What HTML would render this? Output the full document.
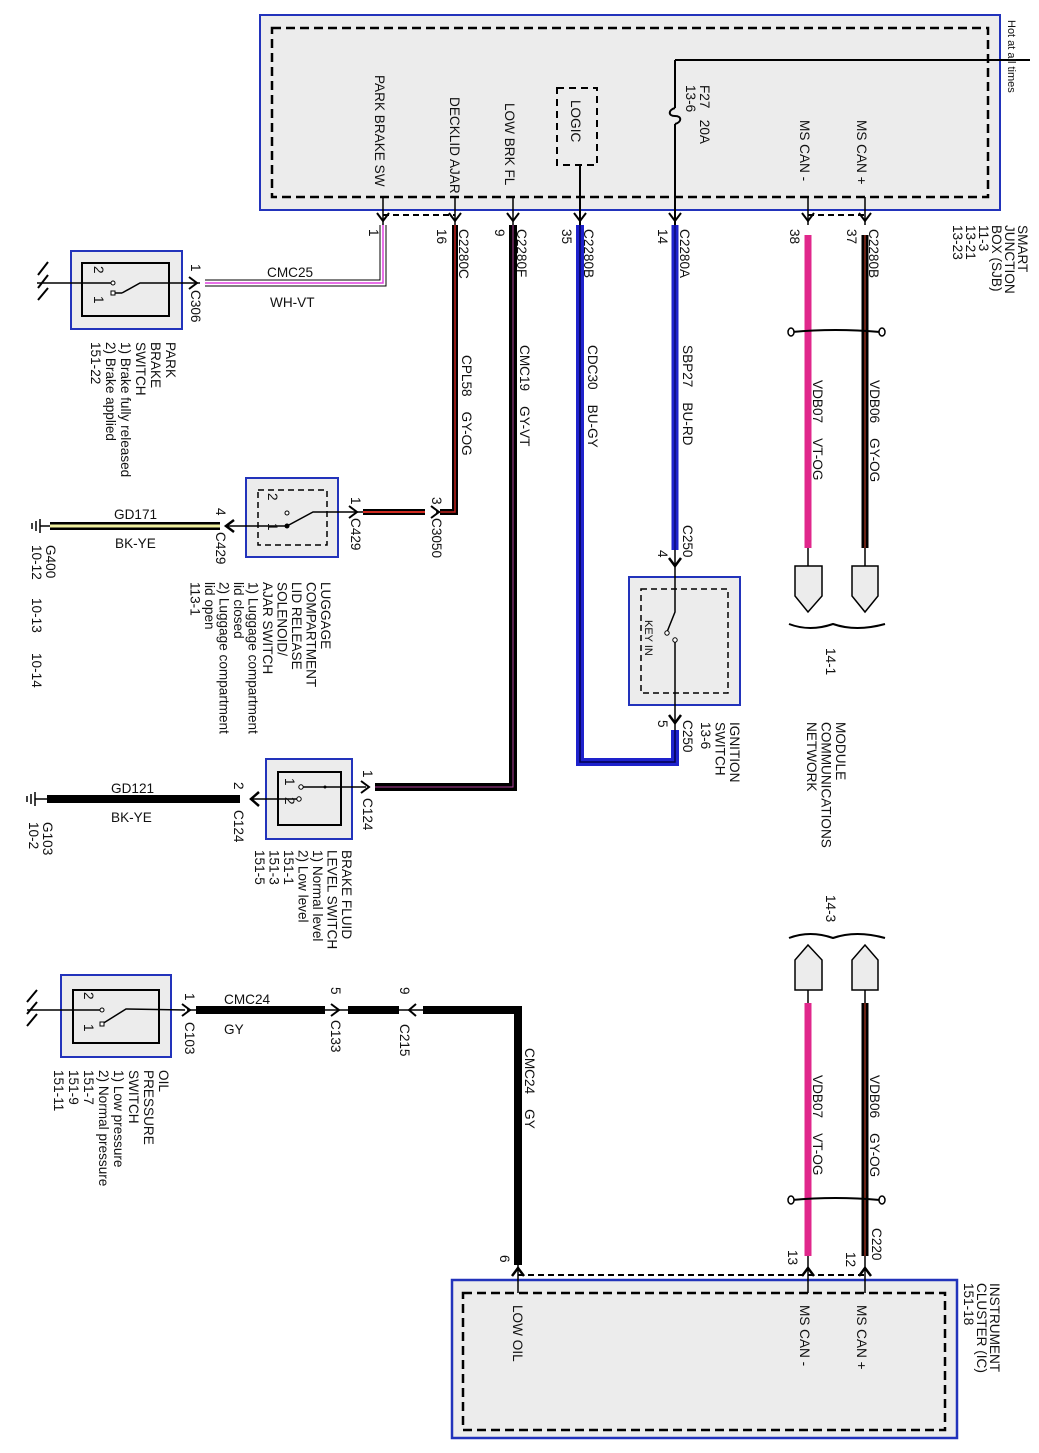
<!DOCTYPE html>
<html><head><meta charset="utf-8"><style>
body{margin:0;background:#fff}
svg{display:block}
text{font-family:"Liberation Sans",sans-serif;font-size:13.6px;fill:#111;white-space:pre}
</style></head><body>
<svg width="1039" height="1453" viewBox="0 0 1039 1453" xmlns="http://www.w3.org/2000/svg">
<defs>
<g id="chD"><path d="M-6,-5 L0,3 L6,-5" fill="none" stroke="#000" stroke-width="2"/></g>
</defs>

<!-- SJB -->
<rect x="260" y="15" width="740" height="195" fill="#ececec" stroke="#2233bb" stroke-width="2"/>
<rect x="272" y="28" width="716" height="169" fill="none" stroke="#000" stroke-width="2.5" stroke-dasharray="9,5"/>
<path d="M675,60 L1030,60" stroke="#000" stroke-width="2"/>
<path d="M675,60 L675,108 M675,124 L675,225" stroke="#000" stroke-width="2"/>
<path d="M675,108 C668,110 668,116 675,116 C682,116 682,122 675,124" fill="none" stroke="#000" stroke-width="2"/>
<rect x="557" y="88" width="40" height="77" fill="none" stroke="#000" stroke-width="2" stroke-dasharray="7,5"/>
<path d="M580,165 L580,225" stroke="#000" stroke-width="2"/>
<path d="M383,197 L383,225 M455,197 L455,225 M513,197 L513,225 M808,197 L808,225 M865,197 L865,225" stroke="#000" stroke-width="1.5"/>
<path d="M383,215 L455,215 M808,215 L865,215" stroke="#000" stroke-width="2" stroke-dasharray="6,4"/>
<g transform="translate(383,218)"><use href="#chD"/></g>
<g transform="translate(455,218)"><use href="#chD"/></g>
<g transform="translate(513,218)"><use href="#chD"/></g>
<g transform="translate(580,218)"><use href="#chD"/></g>
<g transform="translate(675,218)"><use href="#chD"/></g>
<g transform="translate(808,218)"><use href="#chD"/></g>
<g transform="translate(865,218)"><use href="#chD"/></g>

<text transform="translate(375,75) rotate(90)">PARK BRAKE SW</text>
<text transform="translate(450,97) rotate(90)">DECKLID AJAR</text>
<text transform="translate(505,103) rotate(90)">LOW BRK FL</text>
<text transform="translate(571,100) rotate(90)">LOGIC</text>
<text transform="translate(686,85) rotate(90)">13-6</text>
<text transform="translate(700,85) rotate(90)">F27   20A</text>
<text transform="translate(800,120) rotate(90)">MS CAN -</text>
<text transform="translate(857,120) rotate(90)">MS CAN +</text>
<text transform="translate(1008,20) rotate(90)" style="font-size:11px">Hot at all times</text>

<text transform="translate(369,229) rotate(90)">1</text>
<text transform="translate(437,229) rotate(90)">16</text>
<text transform="translate(495,229) rotate(90)">9</text>
<text transform="translate(562,229) rotate(90)">35</text>
<text transform="translate(658,229) rotate(90)">14</text>
<text transform="translate(790,229) rotate(90)">38</text>
<text transform="translate(847,229) rotate(90)">37</text>
<text transform="translate(459,229) rotate(90)">C2280C</text>
<text transform="translate(517,229) rotate(90)">C2280F</text>
<text transform="translate(584,229) rotate(90)">C2280B</text>
<text transform="translate(680,229) rotate(90)">C2280A</text>
<text transform="translate(869,229) rotate(90)">C2280B</text>
<text transform="translate(1018,225) rotate(90)"><tspan x="0">SMART</tspan><tspan x="0" dy="13">JUNCTION</tspan><tspan x="0" dy="13">BOX (SJB)</tspan><tspan x="0" dy="13">11-3</tspan><tspan x="0" dy="13">13-21</tspan><tspan x="0" dy="13">13-23</tspan></text>

<!-- Park brake wire -->
<path d="M383,225 L383,283 L205,283" fill="none" stroke="#000" stroke-width="7"/>
<path d="M383,225 L383,283 L205,283" fill="none" stroke="#fff" stroke-width="5"/>
<path d="M383,225 L383,283 L205,283" fill="none" stroke="#e040e0" stroke-width="1.5"/>
<text x="267" y="277">CMC25</text>
<text x="270" y="307">WH-VT</text>
<rect x="71" y="251" width="111" height="78" fill="#ececec" stroke="#2233bb" stroke-width="2"/>
<rect x="82" y="263" width="87" height="53" fill="none" stroke="#000" stroke-width="2"/>
<path d="M37,283 L113,283 M122,293 L140,283 L200,283" stroke="#000" stroke-width="1.5" fill="none"/>
<path d="M113,293 L122,293" stroke="#000" stroke-width="1.5"/>
<circle cx="113" cy="283" r="2" fill="#fff" stroke="#000"/>
<rect x="111" y="291" width="4" height="4" fill="#fff" stroke="#000"/>
<path d="M48,262 L38,275 M48,275 L38,288 M48,288 L38,300" stroke="#000" stroke-width="2"/>
<g transform="translate(194,283) rotate(-90)"><use href="#chD"/></g>
<text transform="translate(191,264) rotate(90)">1</text>
<text transform="translate(191,290) rotate(90)">C306</text>
<text transform="translate(94,266) rotate(90)">2</text>
<text transform="translate(94,296) rotate(90)">1</text>
<text transform="translate(166,342) rotate(90)"><tspan x="0">PARK</tspan><tspan x="0" dy="15">BRAKE</tspan><tspan x="0" dy="15">SWITCH</tspan><tspan x="0" dy="15">1) Brake fully released</tspan><tspan x="0" dy="15">2) Brake applied</tspan><tspan x="0" dy="15">151-22</tspan></text>

<!-- Decklid wire -->
<path d="M455,225 L455,512 L440,512" fill="none" stroke="#000" stroke-width="6"/>
<path d="M455,225 L455,512 L440,512" fill="none" stroke="#c0201c" stroke-width="1.5"/>
<text transform="translate(462,355) rotate(90)">CPL58    GY-OG</text>
<path d="M363,512 L425,512" stroke="#000" stroke-width="6"/>
<path d="M363,512 L425,512" stroke="#d02a20" stroke-width="2"/>
<g transform="translate(436,512) rotate(-90)"><use href="#chD"/></g>
<g transform="translate(354,512) rotate(-90)"><use href="#chD"/></g>
<path d="M354,512 L363,512 M436,512 L440,512" stroke="#000" stroke-width="1.5"/>
<text transform="translate(432,497) rotate(90)">3</text>
<text transform="translate(432,518) rotate(90)">C3050</text>
<text transform="translate(351,497) rotate(90)">1</text>
<text transform="translate(351,518) rotate(90)">C429</text>
<rect x="246" y="478" width="92" height="79" fill="#ececec" stroke="#2233bb" stroke-width="2"/>
<rect x="258" y="490" width="69" height="55" fill="none" stroke="#000" stroke-width="1.5" stroke-dasharray="6,4"/>
<path d="M354,512 L313,512 L287,526 L228,526" fill="none" stroke="#000" stroke-width="1.5"/>
<circle cx="287" cy="526" r="2.5" fill="#000"/>
<circle cx="287" cy="513" r="2" fill="#fff" stroke="#000"/>
<path d="M234,520 L226,526 L234,532" fill="none" stroke="#000" stroke-width="2.5"/>
<text transform="translate(268,493) rotate(90)">2</text>
<text transform="translate(268,523) rotate(90)">1</text>
<path d="M50,526 L220,526" stroke="#000" stroke-width="8"/>
<path d="M50,526 L220,526" stroke="#f0f0a0" stroke-width="3"/>
<path d="M40,526 L50,526 M40,519 L40,533 M36,521 L36,531 M32,523 L32,529" stroke="#000" stroke-width="1.5"/>
<text x="114" y="519">GD171</text>
<text x="115" y="548">BK-YE</text>
<text transform="translate(216,508) rotate(90)">4</text>
<text transform="translate(216,532) rotate(90)">C429</text>
<text transform="translate(46,545) rotate(90)">G400</text>
<text transform="translate(32,545) rotate(90)">10-12</text>
<text transform="translate(32,598) rotate(90)">10-13</text>
<text transform="translate(32,653) rotate(90)">10-14</text>
<text transform="translate(321,582) rotate(90)"><tspan x="0">LUGGAGE</tspan><tspan x="0" dy="14.5">COMPARTMENT</tspan><tspan x="0" dy="14.5">LID RELEASE</tspan><tspan x="0" dy="14.5">SOLENOID/</tspan><tspan x="0" dy="14.5">AJAR SWITCH</tspan><tspan x="0" dy="14.5">1) Luggage compartment</tspan><tspan x="0" dy="14.5">lid closed</tspan><tspan x="0" dy="14.5">2) Luggage compartment</tspan><tspan x="0" dy="14.5">lid open</tspan><tspan x="0" dy="14.5">113-1</tspan></text>

<!-- Low brake fluid wire -->
<path d="M513,225 L513,787 L375,787" fill="none" stroke="#000" stroke-width="8"/>
<path d="M513,225 L513,787 L375,787" fill="none" stroke="#b0409a" stroke-width="1"/>
<text transform="translate(520,345) rotate(90)">CMC19    GY-VT</text>
<g transform="translate(366,787) rotate(-90)"><use href="#chD"/></g>
<text transform="translate(363,770) rotate(90)">1</text>
<text transform="translate(363,798) rotate(90)">C124</text>
<rect x="266" y="759" width="86" height="80" fill="#ececec" stroke="#2233bb" stroke-width="2"/>
<rect x="278" y="772" width="63" height="53" fill="none" stroke="#000" stroke-width="2"/>
<path d="M366,787 L301,787 M298,799 L250,799" stroke="#000" stroke-width="1.5"/>
<circle cx="301" cy="787" r="2.2" fill="#fff" stroke="#000"/>
<circle cx="299" cy="799" r="2.2" fill="#fff" stroke="#000"/>
<circle cx="325" cy="787" r="1.5" fill="#000"/>
<path d="M259,792 L251,799 L259,806" fill="none" stroke="#000" stroke-width="2.5"/>
<text transform="translate(285,778) rotate(90)">1</text>
<text transform="translate(285,797) rotate(90)">2</text>
<path d="M47,799 L240,799" stroke="#000" stroke-width="8"/>
<path d="M35,799 L47,799 M35,792 L35,806 M31,794 L31,804 M27,796 L27,802" stroke="#000" stroke-width="1.5"/>
<text x="111" y="793">GD121</text>
<text x="111" y="822">BK-YE</text>
<text transform="translate(234,782) rotate(90)">2</text>
<text transform="translate(234,810) rotate(90)">C124</text>
<text transform="translate(43,822) rotate(90)">G103</text>
<text transform="translate(29,822) rotate(90)">10-2</text>
<text transform="translate(342,850) rotate(90)"><tspan x="0">BRAKE FLUID</tspan><tspan x="0" dy="14.5">LEVEL SWITCH</tspan><tspan x="0" dy="14.5">1) Normal level</tspan><tspan x="0" dy="14.5">2) Low level</tspan><tspan x="0" dy="14.5">151-1</tspan><tspan x="0" dy="14.5">151-3</tspan><tspan x="0" dy="14.5">151-5</tspan></text>

<!-- CDC30 -->
<path d="M580,225 L580,762 L675,762 L675,730" fill="none" stroke="#1e22cc" stroke-width="8"/>
<path d="M580,225 L580,762 L675,762 L675,730" fill="none" stroke="#000050" stroke-width="1.5"/>
<text transform="translate(588,345) rotate(90)">CDC30    BU-GY</text>
<!-- SBP27 -->
<path d="M675,225 L675,550" stroke="#1e22cc" stroke-width="7"/>
<path d="M675,225 L675,550" stroke="#000050" stroke-width="1"/>
<text transform="translate(683,345) rotate(90)">SBP27    BU-RD</text>
<text transform="translate(683,525) rotate(90)">C250</text>
<text transform="translate(658,550) rotate(90)">4</text>
<path d="M669,558 L675,566 L681,558" fill="none" stroke="#000" stroke-width="2.5"/>
<rect x="629" y="577" width="111" height="128" fill="#ececec" stroke="#2233bb" stroke-width="2"/>
<rect x="641" y="589" width="87" height="104" fill="none" stroke="#000" stroke-width="1.5" stroke-dasharray="6,4"/>
<path d="M675,550 L675,612 L667,632" fill="none" stroke="#000" stroke-width="1.5"/>
<circle cx="667" cy="633" r="2.2" fill="#fff" stroke="#000"/>
<circle cx="675" cy="640" r="2.2" fill="#fff" stroke="#000"/>
<path d="M675,642 L675,730" stroke="#000" stroke-width="1.5"/>
<path d="M669,715 L675,723 L681,715" fill="none" stroke="#000" stroke-width="2.5"/>
<text transform="translate(645,620) rotate(90)" style="font-size:11px">KEY IN</text>
<text transform="translate(658,720) rotate(90)">5</text>
<text transform="translate(683,720) rotate(90)">C250</text>
<text transform="translate(730,722) rotate(90)"><tspan x="0">IGNITION</tspan><tspan x="0" dy="14.5">SWITCH</tspan><tspan x="0" dy="14.5">13-6</tspan></text>

<!-- CAN top -->
<path d="M808,235 L808,548" stroke="#e0288c" stroke-width="7"/>
<path d="M865,235 L865,548" stroke="#000" stroke-width="7"/>
<path d="M865,235 L865,548" stroke="#8a2c1c" stroke-width="1.5"/>
<path d="M808,548 L808,566 M865,548 L865,566" stroke="#000" stroke-width="1.5"/>
<path d="M792,332 Q835,328 880,332" fill="none" stroke="#000" stroke-width="2"/>
<ellipse cx="791" cy="332" rx="3" ry="4" fill="#fff" stroke="#000" stroke-width="1.5"/>
<ellipse cx="882" cy="332" rx="3" ry="4" fill="#fff" stroke="#000" stroke-width="1.5"/>
<text transform="translate(813,380) rotate(90)">VDB07    VT-OG</text>
<text transform="translate(870,380) rotate(90)">VDB06    GY-OG</text>
<path d="M795,566 L822,566 L822,596 L808,612 L795,596 Z" fill="#ececec" stroke="#000" stroke-width="1.5"/>
<path d="M852,566 L878,566 L878,596 L865,612 L852,596 Z" fill="#ececec" stroke="#000" stroke-width="1.5"/>
<path d="M789,624 Q810,632 833,624 Q856,632 885,624" fill="none" stroke="#000" stroke-width="2"/>
<text transform="translate(826,648) rotate(90)">14-1</text>
<text transform="translate(836,722) rotate(90)"><tspan x="0">MODULE</tspan><tspan x="0" dy="14.5">COMMUNICATIONS</tspan><tspan x="0" dy="14.5">NETWORK</tspan></text>

<!-- CAN bottom -->
<text transform="translate(826,895) rotate(90)">14-3</text>
<path d="M789,938 Q810,930 833,938 Q856,930 885,938" fill="none" stroke="#000" stroke-width="2"/>
<path d="M795,990 L822,990 L822,960 L808,945 L795,960 Z" fill="#ececec" stroke="#000" stroke-width="1.5"/>
<path d="M852,990 L878,990 L878,960 L865,945 L852,960 Z" fill="#ececec" stroke="#000" stroke-width="1.5"/>
<path d="M808,990 L808,1003 M865,990 L865,1003" stroke="#000" stroke-width="1.5"/>
<path d="M808,1003 L808,1256" stroke="#e0288c" stroke-width="7"/>
<path d="M865,1003 L865,1256" stroke="#000" stroke-width="7"/>
<path d="M865,1003 L865,1256" stroke="#8a2c1c" stroke-width="1.5"/>
<path d="M792,1200 Q835,1196 880,1200" fill="none" stroke="#000" stroke-width="2"/>
<ellipse cx="791" cy="1200" rx="3" ry="4" fill="#fff" stroke="#000" stroke-width="1.5"/>
<ellipse cx="882" cy="1200" rx="3" ry="4" fill="#fff" stroke="#000" stroke-width="1.5"/>
<text transform="translate(813,1075) rotate(90)">VDB07    VT-OG</text>
<text transform="translate(870,1075) rotate(90)">VDB06    GY-OG</text>
<text transform="translate(872,1228) rotate(90)">C220</text>
<text transform="translate(846,1252) rotate(90)">12</text>
<text transform="translate(788,1250) rotate(90)">13</text>

<!-- Oil pressure -->
<rect x="61" y="975" width="110" height="82" fill="#ececec" stroke="#2233bb" stroke-width="2"/>
<rect x="73" y="990" width="86" height="53" fill="none" stroke="#000" stroke-width="2"/>
<path d="M27,1010 L102,1010 M102,1024 L126,1009 L185,1010" fill="none" stroke="#000" stroke-width="1.5"/>
<circle cx="102" cy="1010" r="2" fill="#fff" stroke="#000"/>
<rect x="100" y="1022" width="4" height="4" fill="#fff" stroke="#000"/>
<path d="M37,990 L27,1002 M37,1002 L27,1014 M37,1014 L27,1026" stroke="#000" stroke-width="2"/>
<text transform="translate(84,992) rotate(90)">2</text>
<text transform="translate(84,1024) rotate(90)">1</text>
<g transform="translate(187,1010) rotate(-90)"><use href="#chD"/></g>
<text transform="translate(185,993) rotate(90)">1</text>
<text transform="translate(185,1022) rotate(90)">C103</text>
<path d="M196,1010 L325,1010 M348,1010 L399,1010" stroke="#000" stroke-width="8"/>
<path d="M423,1010 L518,1010 L518,1265" fill="none" stroke="#000" stroke-width="8"/>
<path d="M187,1010 L196,1010 M325,1010 L348,1010 M399,1010 L423,1010" stroke="#000" stroke-width="1.5"/>
<g transform="translate(336,1010) rotate(-90)"><use href="#chD"/></g>
<path d="M416,1004 L409,1010 L416,1016" fill="none" stroke="#000" stroke-width="2"/>
<text x="224" y="1004">CMC24</text>
<text x="224" y="1034">GY</text>
<text transform="translate(331,987) rotate(90)">5</text>
<text transform="translate(331,1020) rotate(90)">C133</text>
<text transform="translate(400,987) rotate(90)">9</text>
<text transform="translate(400,1024) rotate(90)">C215</text>
<text transform="translate(525,1048) rotate(90)">CMC24    GY</text>
<text transform="translate(159,1070) rotate(90)"><tspan x="0">OIL</tspan><tspan x="0" dy="15">PRESSURE</tspan><tspan x="0" dy="15">SWITCH</tspan><tspan x="0" dy="15">1) Low pressure</tspan><tspan x="0" dy="15">2) Normal pressure</tspan><tspan x="0" dy="15">151-7</tspan><tspan x="0" dy="15">151-9</tspan><tspan x="0" dy="15">151-11</tspan></text>

<!-- Instrument cluster -->
<rect x="452" y="1280" width="505" height="158" fill="#ececec" stroke="#2233bb" stroke-width="2.5"/>
<rect x="463" y="1293" width="482" height="137" fill="none" stroke="#000" stroke-width="2.5" stroke-dasharray="9,5"/>
<path d="M518,1265 L518,1293 M808,1256 L808,1293 M865,1256 L865,1293" stroke="#000" stroke-width="1.5"/>
<path d="M518,1275 L865,1275" stroke="#000" stroke-width="2" stroke-dasharray="6,4"/>
<path d="M512,1276 L518,1268 L524,1276 M802,1276 L808,1268 L814,1276 M859,1276 L865,1268 L871,1276" fill="none" stroke="#000" stroke-width="2.5"/>
<text transform="translate(500,1255) rotate(90)">6</text>
<text transform="translate(513,1305) rotate(90)">LOW OIL</text>
<text transform="translate(800,1305) rotate(90)">MS CAN -</text>
<text transform="translate(857,1305) rotate(90)">MS CAN +</text>
<text transform="translate(990,1283) rotate(90)"><tspan x="0">INSTRUMENT</tspan><tspan x="0" dy="13">CLUSTER (IC)</tspan><tspan x="0" dy="13">151-18</tspan></text>
</svg>
</body></html>
